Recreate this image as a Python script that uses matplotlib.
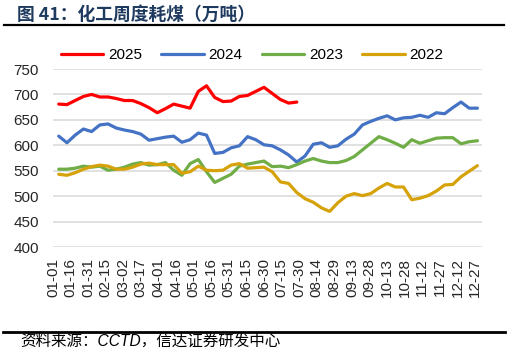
import numpy as np
import pandas as pd
import matplotlib
matplotlib.use('Agg')
import matplotlib.pyplot as plt
import matplotlib.dates as mdates

# weekly chemical-industry coal consumption (10k tonnes)
weeks = pd.date_range('2025-01-06', periods=52, freq='7D')
tick_dates = pd.date_range('2025-01-01', '2025-12-31', freq='15D')

y2025 = [681, 680, 688, 696, 700, 695, 695, 692, 688, 688, 682, 674, 664, 672, 681,
	677, 673, 706, 717, 694, 686, 687, 696, 698, 706, 714, 702, 690, 683, 685]
y2024 = [618, 605, 620, 632, 627, 640, 642, 634, 630, 627, 622, 610, 613, 616, 618,
	606, 611, 624, 620, 584, 586, 595, 599, 617, 611, 601, 599, 591, 581, 567,
	579, 602, 605, 596, 599, 612, 622, 640, 647, 653, 658, 650, 654, 655, 659,
	655, 664, 662, 674, 685, 673, 673]
y2023 = [553, 553, 555, 559, 557, 559, 551, 553, 557, 563, 566, 561, 562, 566, 551,
	541, 564, 572, 548, 527, 535, 543, 559, 563, 566, 569, 558, 559, 556, 562,
	569, 574, 569, 566, 566, 570, 578, 591, 604, 617, 611, 604, 596, 611, 604,
	609, 614, 615, 615, 603, 607, 609]
y2022 = [543, 541, 546, 553, 558, 561, 559, 553, 553, 557, 563, 565, 562, 562, 562,
	545, 548, 559, 551, 550, 551, 561, 564, 555, 556, 557, 548, 528, 525, 507,
	495, 488, 477, 470, 487, 500, 505, 501, 505, 516, 525, 518, 518, 493, 496,
	501, 510, 522, 523, 538, 549, 560]

series = [('2025', y2025, '#FF0000'), ('2024', y2024, '#4472C4'),
	('2023', y2023, '#70AD47'), ('2022', y2022, '#D6A20A')]

num_font = ['Liberation Sans', 'Noto Sans CJK SC']
plt.rcParams['font.family'] = ['Noto Sans CJK SC', 'DejaVu Sans']

fig = plt.figure(figsize=(5.07, 3.48), dpi=100)
ax = fig.add_axes([0.1043, 0.2902, 0.8466, 0.5115])

for name, vals, col in series:
	ax.plot(weeks[:len(vals)], vals, color=col, lw=2.3, label=name, solid_capstyle='round')

ax.set_ylim(400, 750)
ax.set_yticks(np.arange(400, 751, 50))
ax.set_xlim(pd.Timestamp('2025-01-02'), pd.Timestamp('2026-01-02'))
ax.set_xticks(tick_dates)
ax.xaxis.set_major_formatter(mdates.DateFormatter('%m-%d'))
ax.grid(axis='y', color='#D9D9D9', lw=1.1)
ax.set_axisbelow(True)
for s in ax.spines.values():
	s.set_visible(False)
ax.tick_params(axis='both', length=0, labelsize=11, colors='#262626')
ax.tick_params(axis='y', pad=10)
ax.tick_params(axis='x', pad=8)
for lab in ax.get_xticklabels():
	lab.set_rotation(90)
	lab.set_family(num_font)
for lab in ax.get_yticklabels():
	lab.set_family(num_font)

fig.legend(loc='center', bbox_to_anchor=(0.497, 0.842), ncol=4, frameon=False,
	prop={'family': num_font, 'size': 11}, handlelength=2.8, handletextpad=0.3,
	columnspacing=1.25)

# title and source
fig.text(0.034, 0.958, '图 41：化工周度耗煤（万吨）', fontsize=12.8, fontweight='bold',
	color='#1F3A5F', va='center', ha='left')
fig.add_artist(plt.Line2D([0.008, 0.994], [0.928, 0.928], color='black', lw=1.6))
fig.add_artist(plt.Line2D([0.006, 0.996], [0.047, 0.047], color='black', lw=2.0))
fig.text(0.04, 0.019, '资料来源：CCTD，信达证券研发中心', fontsize=11.2, style='italic',
	family=num_font, color='black', va='center', ha='left')

fig.savefig('out.png', dpi=100)
